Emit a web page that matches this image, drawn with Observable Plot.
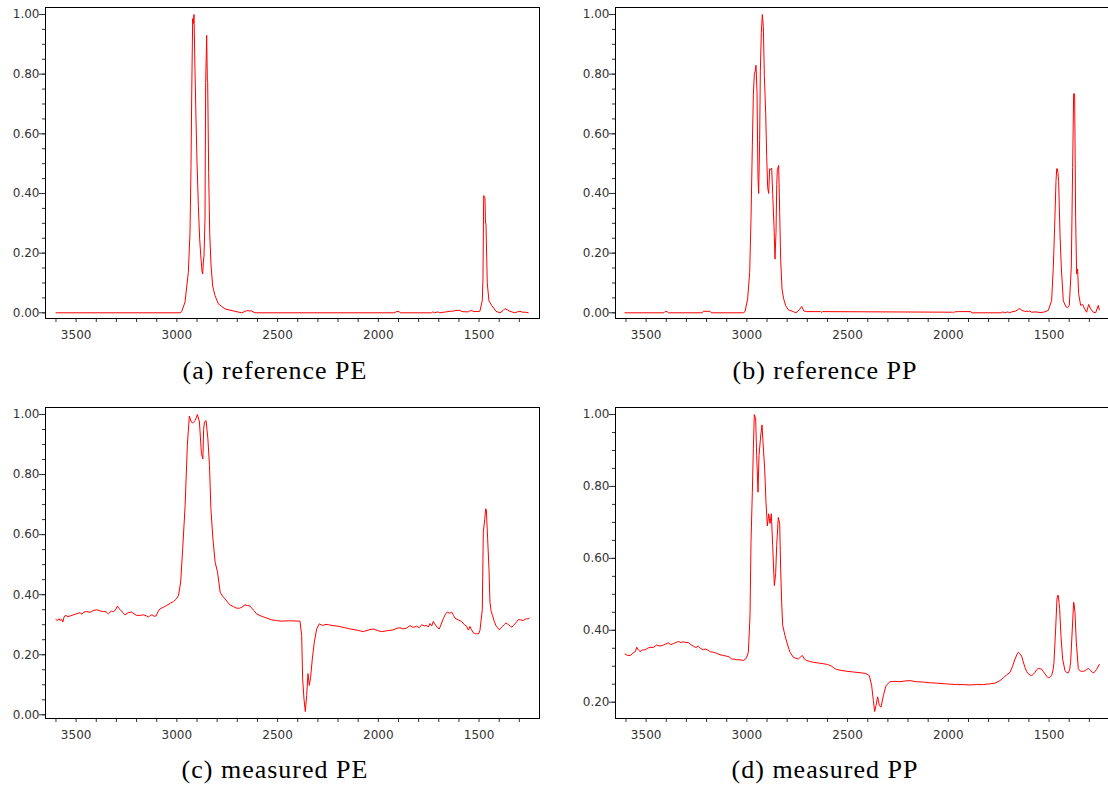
<!DOCTYPE html>
<html>
<head>
<meta charset="utf-8">
<script src="https://cdn.jsdelivr.net/npm/d3@7"></script>
<script src="https://cdn.jsdelivr.net/npm/@observablehq/plot@0.6"></script>
<style>
  html, body { margin: 0; padding: 0; background: #fff; overflow: hidden; }
  #fig { position: relative; width: 1108px; height: 789px; }
  .panel { position: absolute; }
  .caption {
    position: absolute; width: 550px; text-align: center;
    font-family: "Liberation Serif", serif; font-size: 26px; line-height: 26px;
    letter-spacing: 1px; color: #000; white-space: nowrap;
  }
</style>
</head>
<body>
<div id="fig"></div>
<script>
// Normalised IR absorbance spectra: [wavenumber (cm^-1), absorbance]
const refPE = [
  [3600,0],[2984,0],[2976,0.004],[2959.5,0.036],[2943,0.136],[2934.7,0.27],[2929.8,0.49],[2926.5,0.717],
  [2921.5,0.986],[2918.2,0.97],[2914.9,1.0],[2909.9,0.81],[2905,0.65],[2900,0.505],[2893.4,0.36],
  [2886.8,0.248],[2880.1,0.18],[2875.2,0.14],[2871.9,0.13],[2868.6,0.17],[2865.2,0.19],[2860.3,0.316],
  [2857,0.773],[2852,0.93],[2848.7,0.78],[2847,0.773],[2842.1,0.47],[2837.1,0.27],[2830.5,0.16],
  [2822.2,0.09],[2810.7,0.058],[2794.1,0.03],[2761,0.013],[2711.4,0.005],[2678.3,0],[2653.5,0.007],
  [2628.7,0.006],[2612.1,0],[1917,0],[1912,0.004],[1896,0.004],[1892,0],[1735,0],[1730,0.003],[1720,0],
  [1705,0.003],[1695,0],[1665,0.003],[1645,0.005],[1625,0.006],[1615,0.008],[1595,0.008],[1585,0.004],
  [1554,0.003],[1545,0.007],[1535,0.007],[1525,0.004],[1496,0.005],[1484,0.041],[1480.6,0.114],
  [1477,0.393],[1474,0.39],[1470.7,0.385],[1468,0.3],[1465.7,0.3],[1459.3,0.1],[1450.8,0.04],
  [1437.5,0.025],[1416,0.005],[1396,0],[1380,0.008],[1371.5,0.014],[1360,0.01],[1347,0.005],[1322,0],
  [1310,0.003],[1297,0.005],[1285,0.002],[1270,0.002],[1256,0]
];

const refPP = [
  [3605,0],[3412,0],[3406,0.004],[3396,0.004],[3390,0],[3222,0],[3216,0.005],[3183,0.005],[3177,0],
  [3018,0],[3009,0.004],[2996,0.047],[2986,0.136],[2979.4,0.315],[2972.8,0.56],[2967.8,0.73],
  [2962.9,0.80],[2959.5,0.807],[2954.6,0.83],[2949.6,0.74],[2944.7,0.45],[2941.3,0.40],[2936.4,0.58],
  [2933.1,0.81],[2928.1,0.94],[2923.2,1.0],[2918.2,0.96],[2913.2,0.795],[2906.6,0.67],[2901.6,0.527],
  [2896.7,0.42],[2891.7,0.40],[2886.8,0.483],[2881.8,0.48],[2876.8,0.485],[2871.9,0.40],[2865.2,0.29],
  [2860.3,0.18],[2855.3,0.27],[2851.6,0.43],[2848.7,0.48],[2842.1,0.494],[2837.1,0.337],[2832.2,0.18],
  [2825.5,0.08],[2817.3,0.047],[2807.3,0.024],[2794.1,0.01],[2769.3,0.004],[2756.1,0],[2739.5,0.01],
  [2727.9,0.021],[2716.4,0.006],[2703.1,0.004],[2634,0.004],[2629,0.001],[2624,0.004],[1980,0.002],
  [1975,0],[1969,0.003],[1950,0.004],[1888,0.004],[1884,0],[1735,0],[1730,0.003],[1720,0],[1705,0.003],
  [1695,0],[1686,0.003],[1665,0.006],[1652,0.012],[1644,0.014],[1636,0.008],[1620,0.005],[1600,0.005],
  [1595,0.006],[1588,0.002],[1565,0.003],[1545,0.001],[1528,0.002],[1503.7,0.008],[1487.2,0.041],
  [1478.9,0.153],[1472.3,0.287],[1465.7,0.44],[1462,0.483],[1459.1,0.483],[1456,0.47],[1452.4,0.44],
  [1445.8,0.265],[1439.2,0.153],[1429.3,0.04],[1416.1,0.02],[1408,0.017],[1399.5,0.025],[1389.6,0.153],
  [1383,0.487],[1378,0.734],[1373.1,0.734],[1368.1,0.32],[1363.1,0.13],[1358.2,0.147],[1353.2,0.064],
  [1343.3,0.025],[1333.3,0.028],[1323.4,0.013],[1313.5,0.002],[1303.6,0.028],[1293.6,0.013],
  [1280.4,0.002],[1268.8,0],[1255.6,0.025],[1250.6,0.01]
];

const measPE = [
  [3600,0.317],[3592,0.314],[3585,0.32],[3580,0.314],[3572,0.318],[3566,0.309],[3560,0.325],[3554,0.331],
  [3540,0.327],[3521,0.331],[3500,0.336],[3481,0.34],[3471,0.335],[3461,0.342],[3448,0.344],[3431,0.341],
  [3416,0.347],[3398,0.35],[3381,0.346],[3365,0.344],[3351,0.343],[3340,0.336],[3326,0.345],[3315,0.344],
  [3306,0.348],[3295,0.362],[3289,0.355],[3282,0.351],[3271,0.342],[3257,0.333],[3242,0.34],[3224,0.342],
  [3212,0.336],[3199,0.331],[3182,0.331],[3166,0.333],[3152,0.33],[3141,0.325],[3132,0.331],[3124,0.333],
  [3112,0.328],[3103,0.329],[3092,0.345],[3083,0.353],[3062,0.36],[3050,0.364],[3032,0.372],[3017,0.377],
  [3002,0.386],[2992,0.397],[2981,0.442],[2971,0.553],[2959,0.697],[2948,0.897],[2938,0.995],[2929,0.975],
  [2921,0.972],[2909,0.98],[2898,1.0],[2888,0.975],[2878,0.87],[2871,0.852],[2867,0.95],[2863,0.975],
  [2855,0.98],[2846,0.919],[2838,0.83],[2831,0.686],[2821,0.586],[2810,0.508],[2798,0.475],[2785,0.408],
  [2773,0.395],[2761,0.386],[2748,0.375],[2736,0.366],[2719,0.36],[2703,0.355],[2689,0.355],[2678,0.358],
  [2662,0.366],[2649,0.364],[2637,0.362],[2619,0.348],[2604,0.336],[2579,0.328],[2554,0.322],[2529,0.316],
  [2504,0.314],[2488,0.312],[2440,0.313],[2389,0.312],[2380.5,0.264],[2375.6,0.12],[2369,0.053],
  [2362.4,0.011],[2355.7,0.064],[2349.1,0.137],[2342.5,0.098],[2336,0.125],[2327.6,0.186],[2317.7,0.242],
  [2306,0.286],[2293,0.303],[2276,0.297],[2265,0.301],[2248,0.30],[2225,0.297],[2199,0.295],[2166,0.29],
  [2141,0.286],[2106,0.282],[2074.5,0.277],[2046,0.283],[2025,0.286],[2002,0.28],[1983.5,0.277],
  [1956,0.28],[1925.6,0.283],[1907,0.288],[1892.5,0.29],[1877,0.286],[1859.4,0.289],[1843,0.297],
  [1827,0.291],[1810,0.295],[1797,0.29],[1785,0.30],[1772,0.296],[1760,0.298],[1752,0.292],[1743.6,0.304],
  [1735,0.296],[1727,0.311],[1720,0.303],[1714,0.297],[1706,0.29],[1697.3,0.286],[1688,0.302],
  [1677.5,0.32],[1667,0.335],[1657.6,0.342],[1646,0.338],[1636,0.342],[1626,0.33],[1619.6,0.322],
  [1603,0.316],[1586.5,0.311],[1573,0.3],[1561.7,0.295],[1553,0.282],[1545,0.294],[1537,0.283],
  [1528.6,0.273],[1518,0.27],[1512,0.27],[1502,0.27],[1495.5,0.281],[1484,0.35],[1478.9,0.608],
  [1472,0.65],[1467,0.686],[1464,0.683],[1457.4,0.586],[1450.8,0.486],[1445.9,0.375],[1440,0.345],
  [1432.6,0.33],[1424,0.31],[1416.1,0.297],[1408,0.29],[1399.5,0.283],[1391,0.29],[1383,0.295],
  [1375,0.3],[1366.5,0.306],[1360,0.303],[1353.2,0.30],[1345,0.295],[1336.7,0.292],[1329,0.298],
  [1321.8,0.303],[1313,0.31],[1305.2,0.317],[1293,0.316],[1280.5,0.314],[1272,0.318],[1263.9,0.32],
  [1257,0.319],[1250.7,0.322]
];

const measPP = [
  [3604.7,0.334],[3592,0.33],[3579.9,0.33],[3570,0.334],[3560,0.339],[3553,0.341],[3546.8,0.353],
  [3538,0.345],[3530.3,0.341],[3518,0.345],[3505.4,0.346],[3492,0.35],[3480.6,0.353],[3465,0.352],
  [3447.6,0.359],[3431,0.356],[3414.5,0.359],[3402,0.362],[3389.7,0.365],[3377,0.36],[3364.8,0.363],
  [3352,0.366],[3340,0.369],[3328,0.366],[3315.2,0.368],[3303,0.366],[3290.4,0.366],[3278,0.36],
  [3265.6,0.356],[3253,0.352],[3240.8,0.356],[3228,0.349],[3215.9,0.346],[3204,0.348],[3191.1,0.344],
  [3179,0.34],[3166.3,0.339],[3150,0.336],[3133.2,0.332],[3117,0.33],[3100.2,0.328],[3088,0.326],
  [3075.3,0.32],[3063,0.32],[3050.5,0.318],[3034,0.318],[3017.4,0.316],[3006,0.32],[3000.9,0.325],
  [2992.6,0.339],[2984.4,0.44],[2979.4,0.645],[2972.8,0.784],[2967.8,0.905],[2962.9,1.0],[2956.2,0.988],
  [2951.3,0.886],[2944.6,0.784],[2939.7,0.886],[2931.4,0.94],[2924.8,0.971],[2919.8,0.923],[2911.6,0.849],
  [2905,0.756],[2898.3,0.69],[2891.7,0.724],[2885.1,0.697],[2878.5,0.724],[2871.9,0.636],[2863.6,0.524],
  [2857,0.557],[2852,0.636],[2843.8,0.714],[2837.1,0.697],[2832.2,0.571],[2827.2,0.478],[2822.2,0.414],
  [2810.7,0.385],[2799.1,0.362],[2785.9,0.339],[2769.3,0.325],[2755,0.322],[2744.5,0.32],[2735,0.325],
  [2724.6,0.33],[2714,0.32],[2703.2,0.316],[2685,0.313],[2670.1,0.311],[2645,0.309],[2620.4,0.307],
  [2600,0.305],[2587.3,0.302],[2579,0.3],[2565,0.294],[2554,0.291],[2537.7,0.289],[2504.6,0.286],
  [2470,0.284],[2438.4,0.282],[2410,0.28],[2392,0.274],[2380.5,0.246],[2372.2,0.205],[2365.6,0.174],
  [2359,0.191],[2350.7,0.215],[2342.5,0.191],[2334.2,0.186],[2322.6,0.218],[2309.4,0.246],[2289.5,0.257],
  [2265,0.258],[2240,0.257],[2215,0.259],[2190.3,0.26],[2160,0.257],[2124,0.256],[2090,0.254],
  [2058,0.253],[2010,0.251],[1958.7,0.249],[1925,0.249],[1892.5,0.248],[1860,0.249],[1826.3,0.249],
  [1795,0.251],[1768.4,0.253],[1743.6,0.26],[1727,0.268],[1710.5,0.276],[1694,0.283],[1681,0.3],
  [1669,0.32],[1660,0.332],[1652.6,0.339],[1645,0.335],[1636.1,0.328],[1628,0.312],[1619.6,0.297],
  [1611,0.285],[1603,0.279],[1595,0.276],[1586.5,0.274],[1578,0.278],[1570,0.283],[1562,0.29],
  [1553.4,0.294],[1545,0.293],[1536.8,0.292],[1528,0.285],[1520.3,0.279],[1512,0.272],[1503.7,0.268],
  [1495,0.27],[1487.2,0.274],[1480,0.29],[1475.6,0.311],[1467.3,0.404],[1460.7,0.487],[1457,0.497],
  [1454.1,0.497],[1450,0.475],[1447.5,0.46],[1440.9,0.385],[1432.6,0.32],[1421,0.288],[1412,0.282],
  [1404.5,0.282],[1398,0.29],[1392.9,0.311],[1384.6,0.404],[1378,0.478],[1375,0.47],[1371.4,0.45],
  [1364.8,0.367],[1354.8,0.293],[1343.3,0.286],[1335,0.286],[1326.7,0.286],[1313.5,0.291],[1303.6,0.294],
  [1293.6,0.288],[1285,0.283],[1277.1,0.282],[1263.9,0.291],[1250.6,0.305]
];

// Axis ticks
const xMajorTicks = [3500, 3000, 2500, 2000, 1500];
const xMinorTicks = [3600, 3400, 3300, 3200, 3100, 2900, 2800, 2700, 2600, 2400, 2300, 2200, 2100,
                     1900, 1800, 1700, 1600, 1400, 1300];
const yMajorFull = [0, 0.2, 0.4, 0.6, 0.8, 1.0];
const yMinorFull = d3.range(0, 21).map(i => +(i * 0.05).toFixed(2));
const yMajorPP = [0.2, 0.4, 0.6, 0.8, 1.0];
const yMinorPP = d3.range(4, 21).map(i => +(i * 0.05).toFixed(2));

const captions = ["(a) reference PE", "(b) reference PP", "(c) measured PE", "(d) measured PP"];

function spectrumPanel(data, yDomain, yMajor, yMinor) {
  return Plot.plot({
    width: 554,
    height: 345,
    marginLeft: 45,
    marginRight: 15,
    marginTop: 7,
    marginBottom: 27,
    style: { fontFamily: "DejaVu Sans", fontSize: "12px", color: "#333", background: "transparent", overflow: "visible" },
    x: { domain: [3652, 1200] },
    y: { domain: yDomain },
    marks: [
      Plot.axisX(xMinorTicks, { tickSize: 4, text: null }),
      Plot.axisX(xMajorTicks, { tickSize: 4, tickPadding: 8, tickFormat: d => String(d) }),
      Plot.axisY(yMinor, { tickSize: 3, text: null }),
      Plot.axisY(yMajor, { tickSize: 6, tickPadding: 0, tickFormat: d3.format(".2f") }),
      Plot.line(data, { x: d => d[0], y: d => d[1], stroke: "#ff0000", strokeWidth: 1 }),
      Plot.frame({ stroke: "#000" })
    ]
  });
}

const fig = document.getElementById("fig");
const panels = [
  { data: refPE, y: [-0.0191, 1.0235], maj: yMajorFull, min: yMinorFull, left: 0, top: 0 },
  { data: refPP, y: [-0.0191, 1.0235], maj: yMajorFull, min: yMinorFull, left: 570, top: 0 },
  { data: measPE, y: [-0.0123, 1.0233], maj: yMajorFull, min: yMinorFull, left: 0, top: 400 },
  { data: measPP, y: [0.1547, 1.0195], maj: yMajorPP, min: yMinorPP, left: 570, top: 400 }
];
panels.forEach((p, i) => {
  const svg = spectrumPanel(p.data, p.y, p.maj, p.min);
  svg.classList.add("panel");
  svg.style.left = p.left + "px";
  svg.style.top = p.top + "px";
  fig.appendChild(svg);
  const cap = document.createElement("div");
  cap.className = "caption";
  cap.textContent = captions[i];
  cap.style.left = (i % 2 === 0 ? 0 : 550) + "px";
  cap.style.top = (i < 2 ? 358 : 756.5) + "px";
  fig.appendChild(cap);
});
</script>
</body>
</html>
